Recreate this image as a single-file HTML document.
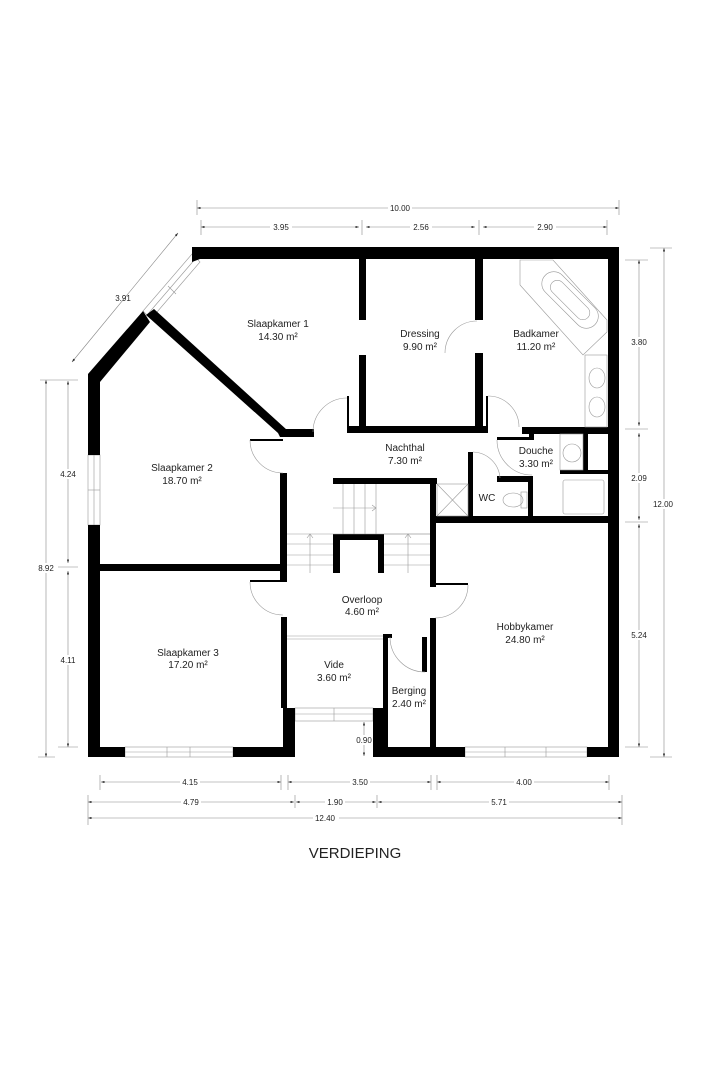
<!DOCTYPE html>
<html><head><meta charset="utf-8"><style>
html,body{margin:0;padding:0;background:#fff}
svg{display:block}
text{font-family:"Liberation Sans",sans-serif;fill:#222}
.l{font-size:10px;text-anchor:middle}
.d{font-size:8px;fill:#555;text-anchor:middle}
.t{stroke:#888;stroke-width:0.6;fill:none}
.f{stroke:#999;stroke-width:0.6;fill:none}
.w{fill:#000}
</style></head><body>
<svg width="711" height="1067" viewBox="0 0 711 1067" xmlns="http://www.w3.org/2000/svg">
<defs>
<marker id="a" markerWidth="6" markerHeight="4" refX="6" refY="2" orient="auto"><path d="M0,0L6,2L0,4z" fill="#333"/></marker>
<marker id="b" markerWidth="6" markerHeight="4" refX="0" refY="2" orient="auto"><path d="M6,0L0,2L6,4z" fill="#333"/></marker>
</defs>

<g class="t" marker-start="url(#b)" marker-end="url(#a)">
<line x1="197" y1="208" x2="619" y2="208"/>
<line x1="201" y1="227" x2="359" y2="227"/>
<line x1="366" y1="227" x2="475" y2="227"/>
<line x1="483" y1="227" x2="607" y2="227"/>
<line x1="72" y1="362" x2="178" y2="233"/>
<line x1="68" y1="381" x2="68" y2="563"/>
<line x1="68" y1="571" x2="68" y2="747"/>
<line x1="46" y1="380" x2="46" y2="757"/>
<line x1="639" y1="260" x2="639" y2="426"/>
<line x1="639" y1="433" x2="639" y2="520"/>
<line x1="639" y1="524" x2="639" y2="747"/>
<line x1="664" y1="248" x2="664" y2="757"/>
<line x1="101" y1="782" x2="281" y2="782"/>
<line x1="288" y1="782" x2="431" y2="782"/>
<line x1="437" y1="782" x2="609" y2="782"/>
<line x1="88" y1="802" x2="294" y2="802"/>
<line x1="296" y1="802" x2="376" y2="802"/>
<line x1="378" y1="802" x2="622" y2="802"/>
<line x1="88" y1="818" x2="622" y2="818"/>
<line x1="364" y1="722" x2="364" y2="756"/>
</g>
<g class="t">
<line x1="197" y1="200" x2="197" y2="215"/><line x1="619" y1="200" x2="619" y2="215"/>
<line x1="201" y1="220" x2="201" y2="235"/><line x1="362" y1="220" x2="362" y2="235"/>
<line x1="479" y1="220" x2="479" y2="235"/><line x1="607" y1="220" x2="607" y2="235"/>
<line x1="625" y1="260" x2="648" y2="260"/><line x1="625" y1="429" x2="648" y2="429"/>
<line x1="625" y1="522" x2="648" y2="522"/><line x1="625" y1="747" x2="648" y2="747"/>
<line x1="650" y1="248" x2="672" y2="248"/><line x1="650" y1="757" x2="672" y2="757"/>
<line x1="40" y1="380" x2="78" y2="380"/><line x1="58" y1="567" x2="78" y2="567"/>
<line x1="58" y1="747" x2="78" y2="747"/><line x1="38" y1="757" x2="55" y2="757"/>
<line x1="100" y1="775" x2="100" y2="790"/><line x1="281" y1="775" x2="281" y2="790"/>
<line x1="288" y1="775" x2="288" y2="790"/><line x1="431" y1="775" x2="431" y2="790"/>
<line x1="437" y1="775" x2="437" y2="790"/><line x1="609" y1="775" x2="609" y2="790"/>
<line x1="88" y1="795" x2="88" y2="825"/><line x1="295" y1="795" x2="295" y2="808"/>
<line x1="377" y1="795" x2="377" y2="808"/><line x1="622" y1="795" x2="622" y2="825"/>
</g>
<g class="d">
<rect x="388" y="203" width="24" height="9" fill="#fff"/><text x="400" y="211">10.00</text>
<rect x="270" y="222" width="22" height="9" fill="#fff"/><text x="281" y="230">3.95</text>
<rect x="410" y="222" width="22" height="9" fill="#fff"/><text x="421" y="230">2.56</text>
<rect x="534" y="222" width="22" height="9" fill="#fff"/><text x="545" y="230">2.90</text>
<text x="123" y="301">3.91</text>
<rect x="58" y="469" width="20" height="10" fill="#fff"/><text x="68" y="477">4.24</text>
<rect x="58" y="655" width="20" height="10" fill="#fff"/><text x="68" y="663">4.11</text>
<rect x="36" y="563" width="20" height="10" fill="#fff"/><text x="46" y="571">8.92</text>
<rect x="629" y="337" width="20" height="10" fill="#fff"/><text x="639" y="345">3.80</text>
<rect x="629" y="473" width="20" height="10" fill="#fff"/><text x="639" y="481">2.09</text>
<rect x="629" y="630" width="20" height="10" fill="#fff"/><text x="639" y="638">5.24</text>
<rect x="651" y="499" width="26" height="10" fill="#fff"/><text x="663" y="507">12.00</text>
<rect x="180" y="777" width="20" height="10" fill="#fff"/><text x="190" y="785">4.15</text>
<rect x="350" y="777" width="20" height="10" fill="#fff"/><text x="360" y="785">3.50</text>
<rect x="514" y="777" width="20" height="10" fill="#fff"/><text x="524" y="785">4.00</text>
<rect x="181" y="797" width="20" height="10" fill="#fff"/><text x="191" y="805">4.79</text>
<rect x="325" y="797" width="20" height="10" fill="#fff"/><text x="335" y="805">1.90</text>
<rect x="489" y="797" width="20" height="10" fill="#fff"/><text x="499" y="805">5.71</text>
<rect x="313" y="813" width="26" height="10" fill="#fff"/><text x="325" y="821">12.40</text>
<rect x="353" y="735" width="22" height="10" fill="#fff"/><text x="364" y="743">0.90</text>
</g>

<g class="f">
<polygon points="192,254 200,262 151,319 143,311"/>
<line x1="196" y1="258" x2="147" y2="315"/>
<line x1="168" y1="286" x2="176" y2="294"/>
<rect x="88" y="455" width="12" height="70"/><line x1="94" y1="455" x2="94" y2="525"/><line x1="88" y1="490" x2="100" y2="490"/>
<rect x="125" y="747" width="108" height="10"/><line x1="125" y1="752" x2="233" y2="752"/><line x1="167" y1="747" x2="167" y2="757"/><line x1="190" y1="747" x2="190" y2="757"/>
<rect x="465" y="747" width="122" height="10"/><line x1="465" y1="752" x2="587" y2="752"/><line x1="505" y1="747" x2="505" y2="757"/><line x1="546" y1="747" x2="546" y2="757"/>
<rect x="295" y="708" width="78" height="13"/><line x1="295" y1="714" x2="373" y2="714"/><line x1="334" y1="708" x2="334" y2="721"/>
<line x1="287" y1="636" x2="383" y2="636"/><line x1="287" y1="639" x2="383" y2="639"/>
</g>

<g class="w">
<polygon points="192,247 619,247 619,757 587,757 587,747 608,747 608,259 200,259 192,262"/>
<rect x="377" y="747" width="88" height="10"/>
<rect x="88" y="747" width="37" height="10"/>
<rect x="233" y="747" width="62" height="10"/>
<rect x="88" y="525" width="12" height="225"/>
<polygon points="88,455 100,455 100,382 150,322 143,311 88,374"/>
<polygon points="146,315 154,309 287,430 287,437 280,437 278,433"/>
<rect x="280" y="429" width="34" height="8"/>
<rect x="347" y="426" width="141" height="7"/>
<rect x="347" y="396" width="2" height="31"/>
<rect x="359" y="259" width="7" height="61"/>
<rect x="359" y="355" width="7" height="72"/>
<rect x="475" y="259" width="8" height="61"/>
<rect x="475" y="353" width="8" height="74"/>
<rect x="486" y="396" width="2" height="31"/>
<rect x="522" y="427" width="86" height="7"/>
<rect x="529" y="427" width="5" height="13"/>
<rect x="497" y="437" width="37" height="3"/>
<rect x="583" y="433" width="5" height="38"/>
<rect x="560" y="470" width="48" height="4"/>
<rect x="497" y="476" width="36" height="6"/>
<rect x="528" y="476" width="5" height="46"/>
<rect x="468" y="452" width="5" height="70"/>
<rect x="435" y="516" width="173" height="7"/>
<rect x="333" y="478" width="104" height="6"/>
<rect x="430" y="478" width="6" height="107"/>
<rect x="430" y="585" width="6" height="2"/>
<rect x="430" y="618" width="6" height="139"/>
<rect x="435" y="583" width="33" height="2"/>
<rect x="280" y="473" width="7" height="109"/>
<rect x="100" y="564" width="187" height="7"/>
<rect x="250" y="580" width="33" height="2"/>
<rect x="250" y="439" width="33" height="2"/>
<rect x="281" y="617" width="6" height="91"/>
<rect x="283" y="708" width="12" height="49"/>
<rect x="373" y="708" width="15" height="49"/>
<rect x="383" y="636" width="5" height="72"/>
<rect x="383" y="634" width="9" height="4"/>
<rect x="422" y="637" width="5" height="35"/>
<rect x="333" y="534" width="51" height="6"/>
<rect x="333" y="534" width="7" height="39"/>
<rect x="378" y="534" width="6" height="39"/>
</g>

<g class="f">
<path d="M313,432 A34,34 0 0 1 347,398"/>
<path d="M250,440 A33,33 0 0 0 283,473"/>
<path d="M445,353 A32,32 0 0 1 477,321"/>
<path d="M488,396 A31,31 0 0 1 519,427"/>
<path d="M497,440 A35,35 0 0 0 532,475"/>
<path d="M473,452 A28,28 0 0 1 500,478"/>
<path d="M250,582 A33,33 0 0 0 283,615"/>
<path d="M468,585 A33,33 0 0 1 435,618"/>
<path d="M390,637 A35,35 0 0 0 425,672"/>
<line x1="333" y1="534" x2="430" y2="534"/>
<line x1="343" y1="484" x2="343" y2="534"/><line x1="354" y1="484" x2="354" y2="534"/>
<line x1="365" y1="484" x2="365" y2="534"/><line x1="376" y1="484" x2="376" y2="534"/>
<line x1="333" y1="508" x2="376" y2="508"/><path d="M372,505 L376,508 L372,511"/>
<line x1="287" y1="534" x2="333" y2="534"/><line x1="287" y1="544" x2="333" y2="544"/>
<line x1="287" y1="555" x2="333" y2="555"/><line x1="287" y1="565" x2="333" y2="565"/>
<line x1="310" y1="534" x2="310" y2="573"/><path d="M307,538 L310,534 L313,538"/>
<line x1="384" y1="534" x2="430" y2="534"/><line x1="384" y1="544" x2="430" y2="544"/>
<line x1="384" y1="555" x2="430" y2="555"/><line x1="384" y1="565" x2="430" y2="565"/>
<line x1="408" y1="534" x2="408" y2="573"/><path d="M405,538 L408,534 L411,538"/>
<rect x="437" y="484" width="31" height="32"/><line x1="437" y1="484" x2="468" y2="516"/><line x1="468" y1="484" x2="437" y2="516"/>
<polygon points="520,260 553,260 607,320 607,332 583,355 520,285"/>
<rect x="533" y="283" width="70" height="24" rx="12" transform="rotate(45 563 300)"/>
<rect x="543" y="288" width="50" height="14" rx="7" transform="rotate(45 563 300)"/>
<rect x="585" y="355" width="22" height="72"/>
<ellipse cx="597" cy="378" rx="8" ry="10"/><ellipse cx="597" cy="407" rx="8" ry="10"/>
<rect x="560" y="434" width="23" height="36"/><ellipse cx="572" cy="453" rx="9" ry="9"/>
<rect x="563" y="480" width="41" height="34" rx="2"/>
<ellipse cx="513" cy="500" rx="10" ry="7"/><rect x="521" y="492" width="6" height="16"/>
</g>

<g class="l">
<text x="278" y="327">Slaapkamer 1</text><text x="278" y="340">14.30 m²</text>
<text x="420" y="337">Dressing</text><text x="420" y="350">9.90 m²</text>
<text x="536" y="337">Badkamer</text><text x="536" y="350">11.20 m²</text>
<text x="405" y="451">Nachthal</text><text x="405" y="464">7.30 m²</text>
<text x="536" y="454">Douche</text><text x="536" y="467">3.30 m²</text>
<text x="487" y="501">WC</text>
<text x="182" y="471">Slaapkamer 2</text><text x="182" y="484">18.70 m²</text>
<text x="362" y="603">Overloop</text><text x="362" y="615">4.60 m²</text>
<text x="525" y="630">Hobbykamer</text><text x="525" y="643">24.80 m²</text>
<text x="188" y="656">Slaapkamer 3</text><text x="188" y="668">17.20 m²</text>
<text x="334" y="668">Vide</text><text x="334" y="681">3.60 m²</text>
<text x="409" y="694">Berging</text><text x="409" y="707">2.40 m²</text>
</g>
<text x="355" y="858" style="font-size:15px;text-anchor:middle">VERDIEPING</text>
</svg>
</body></html>
